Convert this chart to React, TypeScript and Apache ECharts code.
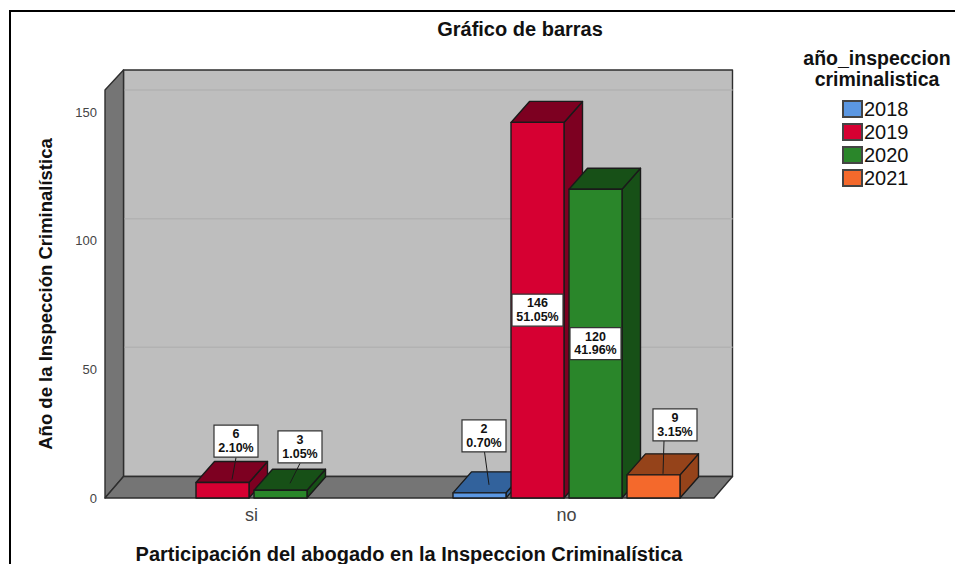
import React, { useEffect, useRef } from "react";
import * as echarts from "echarts";

const categories = ["si", "no"];
const years = ["2018", "2019", "2020", "2021"];
const counts2018 = [null, 2];
const counts2019 = [6, 146];
const counts2020 = [3, 120];
const counts2021 = [null, 9];
const pct2018 = [null, "0.70%"];
const pct2019 = ["2.10%", "51.05%"];
const pct2020 = ["1.05%", "41.96%"];
const pct2021 = [null, "3.15%"];
const yTicks = [50, 100, 150];

const allCounts = [counts2018, counts2019, counts2020, counts2021];
const allPct = [pct2018, pct2019, pct2020, pct2021];

// styles and layout
const FONT = '"Liberation Sans", Arial, sans-serif';
const front = ["#5b97e2", "#d60032", "#2a862a", "#f4692c"];
const shade = ["#32629c", "#7d0021", "#175017", "#95431a"];
const EDGE = "#1a1a1a";
const SLOT = 58;
const BAR = 53;
const DX = 18.5;
const DY = 21;
const WALL_DY_TOP = 20;
const WALL_DY_BOTTOM = 21.5;
// callout offsets from the bar's front-top centre, keyed by "series-category"
const callouts: Record<string, { bx: number; by: number; lx1: number; ly1: number; lx2: number; ly2: number }> = {
  "1-0": { bx: 13.5, by: -41.5, lx1: 13.5, ly1: -25, lx2: 9.5, ly2: -3 },
  "2-0": { bx: 19.5, by: -43.5, lx1: 19.5, ly1: -27, lx2: 9.5, ly2: -7 },
  "0-1": { bx: 4.5, by: -57, lx1: 5, ly1: -41, lx2: 9.5, ly2: -8 },
  "3-1": { bx: 21.5, by: -50, lx1: 10.5, ly1: -34, lx2: 9.5, ly2: -1 },
};

function barLeft(center: number, s: number) {
  return center + (s - 2) * SLOT + 2.5;
}

function renderBar(s: number) {
  return (_: any, api: any) => {
    const raw = api.value(1);
    if (raw == null || isNaN(raw)) return null;
    const c = api.coord([api.value(0), 0]);
    const t = api.coord([api.value(0), raw]);
    const x0 = barLeft(c[0], s);
    const x1 = x0 + BAR;
    const yb = c[1];
    const yt = t[1];
    const base = { stroke: EDGE, lineWidth: 1.4, lineJoin: "round" };
    return {
      type: "group",
      children: [
        {
          type: "polygon",
          shape: { points: [[x1, yt], [x1 + DX, yt - DY], [x1 + DX, yb - DY], [x1, yb]] },
          style: { ...base, fill: shade[s] },
        },
        {
          type: "polygon",
          shape: { points: [[x0, yt], [x0 + DX, yt - DY], [x1 + DX, yt - DY], [x1, yt]] },
          style: { ...base, fill: shade[s] },
        },
        {
          type: "rect",
          shape: { x: x0, y: yt, width: BAR, height: yb - yt },
          style: { ...base, fill: front[s] },
        },
      ],
    };
  };
}

function renderWalls(params: any, api: any) {
  const cs = params.coordSys;
  const l = cs.x + 11;
  const r = l + 609;
  const t = cs.y;
  const b = cs.y + cs.height;
  const backTop = t - WALL_DY_TOP;
  const backBottom = b - WALL_DY_BOTTOM;
  const style = { stroke: "#2e2e2e", lineWidth: 1.4, lineJoin: "round" };
  const gridLines = yTicks.map((v) => {
    const y = api.coord([0, v])[1] - WALL_DY_BOTTOM - 0.5;
    return {
      type: "line",
      shape: { x1: l + DX, y1: y, x2: r + DX, y2: y },
      style: { stroke: "#b2b2b2", lineWidth: 1.5 },
    };
  });
  return {
    type: "group",
    children: [
      {
        type: "rect",
        shape: { x: l + DX, y: backTop, width: r - l, height: backBottom - backTop },
        style: { ...style, fill: "#bebebe" },
      },
      ...gridLines,
      {
        type: "polygon",
        shape: { points: [[l, t], [l + DX, backTop], [l + DX, backBottom], [l, b]] },
        style: { ...style, fill: "#757575" },
      },
      {
        type: "polygon",
        shape: { points: [[l, b], [l + DX, backBottom], [r + DX, backBottom], [r, b]] },
        style: { ...style, fill: "#757575" },
      },
    ],
  };
}

function renderLabel(_: any, api: any) {
  const cat = api.value(0);
  const s = api.value(1);
  const v = api.value(2);
  const text = `${v}\n${allPct[s][cat]}`;
  const c = api.coord([cat, 0]);
  const t = api.coord([cat, v]);
  const xc = barLeft(c[0], s) + BAR / 2;
  const co = callouts[`${s}-${cat}`];
  const narrow = !co;
  const cx = co ? xc + co.bx : xc;
  const cy = co ? t[1] + co.by : (t[1] + c[1]) / 2;
  const w = narrow ? 51 : 44;
  const h = 32;
  const children: any[] = [];
  if (co) {
    children.push({
      type: "line",
      shape: { x1: xc + co.lx1, y1: t[1] + co.ly1, x2: xc + co.lx2, y2: t[1] + co.ly2 },
      style: { stroke: EDGE, lineWidth: 1 },
    });
  }
  children.push({
    type: "rect",
    shape: { x: cx - w / 2, y: cy - h / 2, width: w, height: h },
    style: { fill: "#ffffff", stroke: "#333333", lineWidth: 1.2 },
  });
  children.push({
    type: "text",
    style: {
      x: cx,
      y: cy,
      text,
      fill: "#111111",
      font: `bold 12.5px ${FONT}`,
      lineHeight: 13.5,
      align: "center",
      verticalAlign: "middle",
    },
  });
  return { type: "group", children };
}

export default function App() {
  const ref = useRef<HTMLDivElement>(null);
  useEffect(() => {
    const chart = echarts.init(ref.current!, null, { renderer: "svg" });
    const labelData: number[][] = [];
    allCounts.forEach((arr, s) =>
      arr.forEach((v, cat) => {
        if (v != null) labelData.push([cat, s, v]);
      })
    );
    chart.setOption({
      animation: false,
      backgroundColor: "#ffffff",
      title: {
        text: "Gráfico de barras",
        left: 515,
        top: 14,
        textAlign: "center",
        textStyle: { fontFamily: FONT, fontSize: 20, fontWeight: "bold", color: "#111" },
      },
      legend: {
        data: years,
        orient: "vertical",
        left: 842,
        top: 99,
        padding: 0,
        itemWidth: 19,
        itemHeight: 16,
        itemGap: 3,
        selectedMode: false,
        icon: "rect",
        textStyle: { fontFamily: FONT, fontSize: 20, lineHeight: 20, color: "#111", padding: [0, 0, 0, -3] },
      },
      grid: { left: 94, width: 630, top: 90, bottom: 66, outerBoundsMode: "none" },
      xAxis: {
        type: "category",
        data: categories,
        name: "Participación del abogado en la Inspeccion Criminalística",
        nameLocation: "middle",
        nameGap: 46,
        nameTextStyle: { fontFamily: FONT, fontSize: 20, fontWeight: "bold", color: "#111" },
        axisLine: { show: false },
        axisTick: { show: false },
        axisLabel: { fontFamily: FONT, fontSize: 18, color: "#444", margin: 8 },
      },
      yAxis: {
        type: "value",
        min: 0,
        max: 158.6,
        interval: 50,
        offset: -11,
        name: "Año de la Inspección Criminalística",
        nameLocation: "middle",
        nameGap: 50,
        nameTextStyle: { fontFamily: FONT, fontSize: 18.5, fontWeight: "bold", color: "#111" },
        axisLine: { show: false },
        axisTick: { show: false },
        splitLine: { show: false },
        axisLabel: { fontFamily: FONT, fontSize: 13, color: "#444", margin: 8, showMaxLabel: false },
      },
      graphic: [
        {
          type: "polyline",
          shape: { points: [[10, 564], [10, 11], [955, 11]] },
          style: { stroke: "#000", lineWidth: 2, fill: "none" },
        },
        {
          type: "text",
          x: 877,
          y: 68.5,
          style: {
            text: "año_inspeccion\ncriminalistica",
            font: `bold 19.5px ${FONT}`,
            lineHeight: 20.5,
            fill: "#111",
            align: "center",
            verticalAlign: "middle",
          },
        },
      ],
      series: [
        {
          name: "walls",
          type: "custom",
          renderItem: renderWalls,
          data: [[0, 0]],
          encode: { x: 0, y: 1 },
          clip: false,
          silent: true,
        },
        ...years.map((name, s) => ({
          name,
          type: "custom",
          renderItem: renderBar(s),
          itemStyle: { color: front[s], borderColor: "#444", borderWidth: 1.5 },
          data: allCounts[s].map((v, cat) => [cat, v]),
          encode: { x: 0, y: 1 },
          clip: false,
        })),
        {
          name: "labels",
          type: "custom",
          renderItem: renderLabel,
          data: labelData,
          encode: { x: 0, y: 2 },
          clip: false,
        },
      ],
    });
    return () => chart.dispose();
  }, []);
  return <div ref={ref} style={{ position: "fixed", left: 0, top: 0, width: 955, height: 564 }} />;
}
